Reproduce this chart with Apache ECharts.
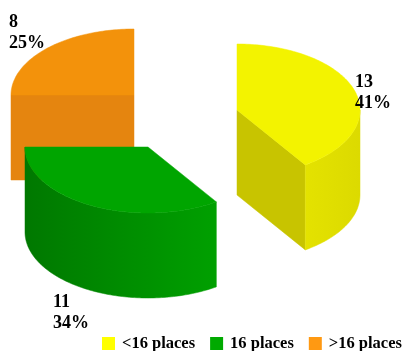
<!DOCTYPE html>
<html><head><meta charset="utf-8">
<style>html,body{margin:0;padding:0;background:#fff}#c{width:405px;height:351px}</style>
<script src="https://cdn.jsdelivr.net/npm/echarts@6/dist/echarts.min.js"></script>
</head><body><div id="c"></div>
<script>
const categories = ['<16 places', '16 places', '>16 places'];
const values = [13, 11, 8];
const topColors = ['#F3F300', '#00A500', '#F3920B'];
const radialColors = ['#C8C400', '#008A00', '#E5850F'];
const curveStops = [['#E4E200', '#DCDA00'], ['#007800', '#00A000'], ['#E5850F', '#E5850F']];
const centers = [[237, 110], [148, 147], [134, 95]];
const labelSpots = [[355, 72], [53, 292], [9, 12]];
const RX = 123, RY = 66, DEPTH = 85;
const total = values.reduce((a, b) => a + b, 0);
const chart = echarts.init(document.getElementById('c'), null, {renderer: 'canvas'});
const pt = (c, a, dy) => [c[0] + RX * Math.sin(a), c[1] - RY * Math.cos(a) + (dy || 0)];
const arc = (c, a0, a1, dy) => {
  const n = Math.max(2, Math.ceil(Math.abs(a1 - a0) / 0.02)), out = [];
  for (let i = 0; i <= n; i++) out.push(pt(c, a0 + (a1 - a0) * i / n, dy));
  return out;
};
function sliceRenderer(idx) {
  let before = 0;
  for (let i = 0; i < idx; i++) before += values[i];
  return function (params, api) {
    const v = api.value(0);
    const a0 = before / total * 2 * Math.PI, a1 = (before + v) / total * 2 * Math.PI;
    const c = centers[idx], kids = [], z = c[1];
    const poly = (points, fill, zz) => kids.push({type: 'polygon', z2: z + zz, shape: {points},
      style: {fill, stroke: fill, lineWidth: 0.5}});
    const wall = (a) => {
      const e = pt(c, a);
      poly([c, e, [e[0], e[1] + DEPTH], [c[0], c[1] + DEPTH]], radialColors[idx], 0);
    };
    if (Math.sin(a0) < -1e-6) wall(a0);
    if (Math.sin(a1) > 1e-6) wall(a1);
    const lo = Math.max(a0, Math.PI / 2), hi = Math.min(a1, Math.PI * 1.5);
    if (hi > lo) {
      const upper = arc(c, lo, hi), lower = arc(c, hi, lo, DEPTH);
      const xs = upper.map(p => p[0]);
      const s = curveStops[idx];
      poly(upper.concat(lower), new echarts.graphic.LinearGradient(
        Math.min(...xs), 0, Math.max(...xs), 0,
        [{offset: 0, color: s[0]}, {offset: 1, color: s[1]}], true), 0.5);
    }
    kids.push({type: 'polygon', z2: z + 1, shape: {points: [c].concat(arc(c, a0, a1))},
      style: {fill: topColors[idx], stroke: topColors[idx], lineWidth: 0.5}});
    kids.push({type: 'text', z2: 500, x: labelSpots[idx][0], y: labelSpots[idx][1],
      style: {text: v + '\n' + Math.round(v / total * 100) + '%', fill: '#000',
        font: 'bold 18px "Liberation Serif"', lineHeight: 21, textAlign: 'left', textVerticalAlign: 'top'}});
    return {type: 'group', children: kids};
  };
}
chart.setOption({
  animation: false,
  backgroundColor: '#fff',
  legend: {
    data: categories, left: 102, top: 335, itemWidth: 13, itemHeight: 13, itemGap: 15,
    icon: 'rect', padding: 0, selectedMode: false,
    textStyle: {fontFamily: 'Liberation Serif', fontWeight: 'bold', fontSize: 16.5, color: '#000', padding: [0, 0, 0, 2]}
  },
  series: categories.map((name, i) => ({
    type: 'custom', name, coordinateSystem: 'none', silent: true,
    itemStyle: {color: ['#FFFF00', '#00AA00', '#FF9912'][i]},
    data: [[values[i]]],
    renderItem: sliceRenderer(i),
    z: [2, 3, 1][i]
  }))
});
</script></body></html>
